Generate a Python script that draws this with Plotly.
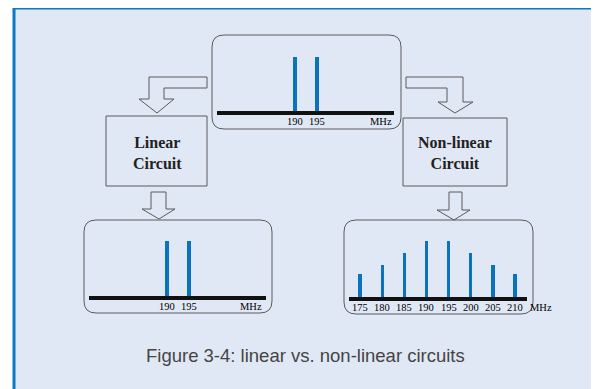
import plotly.graph_objects as go

# page body has an 8px margin: the figure covers screen pixels 8..599 x 8..389
OFF = 8
W, H = 599 - OFF, 389 - OFF

# ---- data ----
input_freqs = [190, 195]
input_amps = [1.0, 1.0]
linear_freqs = [190, 195]
linear_amps = [1.0, 1.0]
nonlinear_freqs = [175, 180, 185, 190, 195, 200, 205, 210]
nonlinear_amps = [0.41, 0.57, 0.79, 1.0, 1.0, 0.78, 0.57, 0.41]
input_ticks = [190, 195]
linear_ticks = [190, 195]
nonlinear_ticks = [175, 180, 185, 190, 195, 200, 205, 210]
unit_label = "MHz"
box_labels = ["Linear<br>Circuit", "Non-linear<br>Circuit"]
caption = "Figure 3-4: linear vs. non-linear circuits"

BAR_COLOR = "#0b72be"
BG = "#e1e8f5"
FRAME = "#0a78c2"
EDGE = "#5a5a5a"
SERIF = "Liberation Serif"

fig = go.Figure()


def fx(px):
    return (px - OFF) / W


def fy(py):
    return 1 - (py - OFF) / H


# panel geometry in screen pixels
panels = [
    dict(x0=217, x1=394, yb=111, yt=45, bt=57, fr=[172.27, 212.5],
         f=input_freqs, a=input_amps, t=input_ticks, ux=381),
    dict(x0=89, x1=266, yb=296, yt=230, bt=241, fr=[172.27, 212.5],
         f=linear_freqs, a=linear_amps, t=linear_ticks, ux=251),
    dict(x0=349, x1=527, yb=297, yt=231, bt=241, fr=[172.5, 212.7],
         f=nonlinear_freqs, a=nonlinear_amps, t=nonlinear_ticks, ux=541),
]

layout_axes = {}
annotations = []
for i, p in enumerate(panels, start=2):
    fig.add_trace(go.Bar(x=p["f"], y=p["a"], width=0.72, marker=dict(color=BAR_COLOR, line=dict(width=0)),
                         xaxis=f"x{i}", yaxis=f"y{i}", showlegend=False, hoverinfo="skip"))
    ymax = (p["yb"] - p["yt"]) / (p["yb"] - p["bt"])
    layout_axes[f"xaxis{i}"] = dict(domain=[fx(p["x0"]), fx(p["x1"])], range=p["fr"], anchor=f"y{i}",
                                    showgrid=False, zeroline=False, showline=True, linewidth=4,
                                    linecolor="#111111", showticklabels=False, ticks="",
                                    fixedrange=True)
    layout_axes[f"yaxis{i}"] = dict(domain=[fy(p["yb"]), fy(p["yt"])], range=[0, ymax],
                                    anchor=f"x{i}", visible=False, fixedrange=True)
    # tick labels positioned through the panel's x scale, ~10px below the baseline
    for v in p["t"]:
        annotations.append(dict(x=v, y=fy(p["yb"] + 10.5), xref=f"x{i}", yref="paper", text=str(v),
                                showarrow=False, yanchor="middle",
                                font=dict(family=SERIF, size=10.5, color="#000000")))
    annotations.append(dict(x=p["ux"], y=p["yb"] + 10.5, xref="x", yref="y", text=unit_label, showarrow=False,
                            yanchor="middle", font=dict(family=SERIF, size=10.5, color="#000000")))

shapes = []
# background panel and blue frame
shapes.append(dict(type="rect", x0=15, x1=600, y0=9, y1=390, fillcolor=BG, line=dict(width=0), layer="below"))
shapes.append(dict(type="line", x0=14, x1=14, y0=8, y1=390, line=dict(color=FRAME, width=3), layer="below"))
shapes.append(dict(type="line", x0=13, x1=600, y0=8.5, y1=8.5, line=dict(color=FRAME, width=2), layer="below"))


def rrect(x0, y0, x1, y1, r):
    return (f"M{x0 + r},{y0} L{x1 - r},{y0} Q{x1},{y0} {x1},{y0 + r} L{x1},{y1 - r} "
            f"Q{x1},{y1} {x1 - r},{y1} L{x0 + r},{y1} Q{x0},{y1} {x0},{y1 - r} "
            f"L{x0},{y0 + r} Q{x0},{y0} {x0 + r},{y0} Z")


for (a, b, c, d) in [(212, 35, 401, 129), (84, 220, 272, 313), (344, 220, 533, 314)]:
    shapes.append(dict(type="path", path=rrect(a, b, c, d, 12), line=dict(color=EDGE, width=1), layer="below"))

# circuit boxes
shapes.append(dict(type="rect", x0=106, y0=116, x1=207, y1=186, line=dict(color=EDGE, width=1), layer="below"))
shapes.append(dict(type="rect", x0=403, y0=118, x1=507, y1=186, line=dict(color=EDGE, width=1), layer="below"))


def poly(pts):
    return "M" + " L".join(f"{x},{y}" for x, y in pts) + " Z"


arrows = [
    [(207, 77), (149, 77), (149, 99), (139, 99), (157, 113), (174, 99), (164, 99), (164, 88), (207, 88)],
    [(406, 77), (463, 77), (463, 102), (473, 102), (455, 113), (438, 102), (447, 102), (447, 88), (406, 88)],
    [(151, 192), (166, 192), (166, 209), (175, 209), (159, 219), (142, 209), (151, 209)],
    [(449, 192), (462, 192), (462, 210), (470, 210), (454, 220), (437, 210), (449, 210)],
]
for pts in arrows:
    shapes.append(dict(type="path", path=poly(pts), line=dict(color=EDGE, width=1), layer="below"))

annotations.append(dict(x=157, y=153, xref="x", yref="y", text="<b>" + box_labels[0] + "</b>", showarrow=False,
                        font=dict(family=SERIF, size=16, color="#222222")))
annotations.append(dict(x=455, y=153, xref="x", yref="y", text="<b>" + box_labels[1] + "</b>", showarrow=False,
                        font=dict(family=SERIF, size=16, color="#222222")))
annotations.append(dict(x=305.5, y=355, xref="x", yref="y", text=caption, showarrow=False,
                        font=dict(family="Liberation Sans", size=18.5, color="#444444")))

fig.update_layout(
    width=W, height=H, margin=dict(l=0, r=0, t=0, b=0),
    paper_bgcolor="white", plot_bgcolor="rgba(0,0,0,0)",
    xaxis=dict(domain=[0, 1], range=[OFF, OFF + W], visible=False, fixedrange=True),
    yaxis=dict(domain=[0, 1], range=[OFF + H, OFF], visible=False, fixedrange=True),
    shapes=shapes, annotations=annotations, bargap=0, showlegend=False,
    **layout_axes,
)
fig.add_trace(go.Scatter(x=[OFF], y=[OFF], mode="markers", marker=dict(opacity=0), showlegend=False, hoverinfo="skip"))

fig.write_html("out.html")
